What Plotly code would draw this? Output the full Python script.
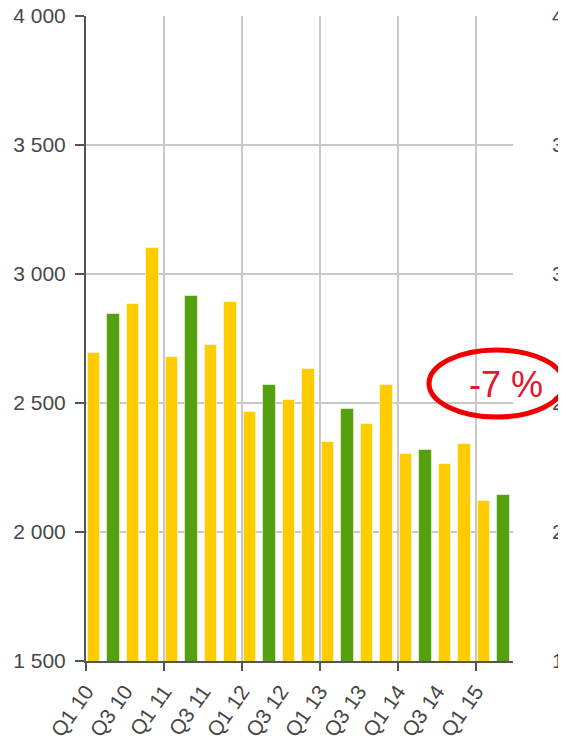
import plotly.graph_objects as go

# ---- data ----
quarters = ["Q1 10", "Q2 10", "Q3 10", "Q4 10",
            "Q1 11", "Q2 11", "Q3 11", "Q4 11",
            "Q1 12", "Q2 12", "Q3 12", "Q4 12",
            "Q1 13", "Q2 13", "Q3 13", "Q4 13",
            "Q1 14", "Q2 14", "Q3 14", "Q4 14",
            "Q1 15", "Q2 15"]
values = [2695, 2845, 2885, 3100,
          2680, 2915, 2725, 2890,
          2465, 2570, 2510, 2630,
          2350, 2475, 2420, 2568,
          2302, 2318, 2264, 2341,
          2121, 2143]
y_ticks = [1500, 2000, 2500, 3000, 3500, 4000]
annotation_text = "-7 %"

# ---- styling ----
YELLOW = "#FFCC00"
GREEN = "#54A00E"
AXIS = "#555555"
GRID = "#c8c8c8"
TEXT = "#474747"
FONT = "Liberation Sans, Arial, sans-serif"

idx = list(range(len(quarters)))
xpos = [i + 0.41 for i in idx]
colors = [GREEN if q.startswith("Q2") else YELLOW for q in quarters]

label_idx = [i for i, q in enumerate(quarters) if q.startswith("Q1") or q.startswith("Q3")]
label_txt = [quarters[i] for i in label_idx]
year_idx = [i for i, q in enumerate(quarters) if q.startswith("Q1")]

OFF = 8                      # page body margin
W, H = 558, 734
ML, MR, MT, MB = 78, 0, 8, 81
plot_right = 505
pw = W - ML - MR
ph = H - MT - MB
xdom = (plot_right - ML) / pw
xrange = [0, 21.9]

fig = go.Figure()
fig.add_trace(go.Bar(
    x=xpos, y=values, width=0.64,
    marker=dict(color=colors, line=dict(color="rgba(255,255,255,0.55)", width=1)),
    showlegend=False, hoverinfo="skip",
))

fig.update_layout(
    width=W, height=H,
    margin=dict(l=ML, r=MR, t=MT, b=MB, pad=0),
    paper_bgcolor="white", plot_bgcolor="white",
    separators=", ",
    font=dict(family=FONT, size=21, color=TEXT),
    bargap=0,
    xaxis=dict(
        domain=[0, xdom], range=xrange, type="linear",
        tickmode="array", tickvals=year_idx, showticklabels=False,
        ticks="outside", ticklen=8, tickwidth=2, tickcolor=AXIS,
        showgrid=True, gridcolor=GRID, gridwidth=2,
        showline=True, linecolor=AXIS, linewidth=2,
        zeroline=False, automargin=False,
    ),
    xaxis2=dict(
        overlaying="x", anchor="y", side="bottom",
        domain=[0, xdom], range=xrange, type="linear",
        tickmode="array", tickvals=label_idx, ticktext=label_txt,
        tickangle=-55, ticks="outside", ticklen=9, tickcolor="rgba(0,0,0,0)",
        showgrid=False, showline=False, zeroline=False,
        tickfont=dict(family=FONT, size=21, color=TEXT),
        ticklabeloverflow="allow",
        automargin=False,
    ),
    yaxis=dict(
        range=[1500, 4000], tickmode="array", tickvals=y_ticks,
        tickformat=",d", ticks="outside", ticklen=9, tickwidth=2, tickcolor=AXIS,
        ticklabelstandoff=5, ticklabeloverflow="allow",
        showgrid=True, gridcolor=GRID, gridwidth=2,
        showline=True, linecolor=AXIS, linewidth=2,
        zeroline=False, automargin=False,
        tickfont=dict(family=FONT, size=21, color=TEXT),
    ),
    yaxis2=dict(
        overlaying="y", anchor="free", side="right", position=0.969,
        range=[1500, 4000], tickmode="array", tickvals=y_ticks,
        tickformat=",d", ticks="", showgrid=False, showline=False,
        zeroline=False, automargin=False, ticklabeloverflow="allow",
        tickfont=dict(family=FONT, size=21, color=TEXT),
    ),
)

# invisible trace so overlay axes are rendered
fig.add_trace(go.Scatter(x=[None], y=[None], xaxis="x2", yaxis="y2",
                         showlegend=False, hoverinfo="skip"))

# red ellipse callout (positions given in window pixels)
def px(x):
    return (x - OFF - ML) / pw
def py(y):
    return (H - MB - (y - OFF)) / ph

fig.add_shape(type="circle", xref="paper", yref="paper",
              x0=px(429), x1=px(564), y0=py(417), y1=py(350),
              line=dict(color="#ee0000", width=5), fillcolor="rgba(0,0,0,0)")
fig.add_annotation(text=annotation_text, xref="paper", yref="paper",
                   x=px(506), y=py(385), showarrow=False,
                   font=dict(family=FONT, size=36, color="#e2162e"),
                   xanchor="center", yanchor="middle")

fig.write_html("out.html")
